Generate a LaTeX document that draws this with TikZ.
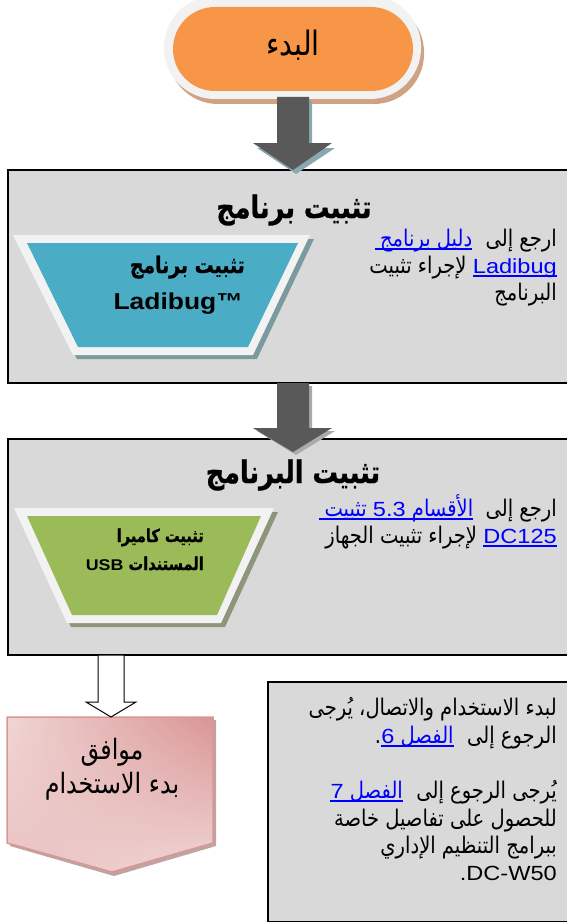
\documentclass[tikz,border=0pt]{standalone}
\usepackage{fontspec}
\usetikzlibrary{shadings}
\setmainfont{Liberation Sans}
\newfontfamily\ar[Script=Arabic, Scale=1.12, FakeStretch=0.85]{DejaVu Sans}
\newfontfamily\arb[Script=Arabic, Scale=1.15, FakeStretch=0.82, FakeBold=0.8]{DejaVu Sans Bold}
\newfontfamily\la[FakeStretch=1.15]{Liberation Sans}
\TeXXeTstate=1
\definecolor{boxgrey}{HTML}{D9D9D9}
\definecolor{adark}{HTML}{595959}
\definecolor{ash1}{HTML}{8AA8B0}
\definecolor{ash2}{HTML}{AAAAAA}
\definecolor{orange1}{HTML}{F79646}
\definecolor{stadsh}{HTML}{CFA283}
\definecolor{rim}{HTML}{F2F2F2}
\definecolor{blue1}{HTML}{4BACC6}
\definecolor{tzsh1}{HTML}{7B9AA0}
\definecolor{green1}{HTML}{9BBB59}
\definecolor{tzsh2}{HTML}{8D957A}
\definecolor{pkdark}{HTML}{D99594}
\definecolor{pkul}{HTML}{F0D5D4}
\definecolor{pkll}{HTML}{E8C3C2}
\definecolor{pklr}{HTML}{F0D7D6}
\definecolor{pkborder}{HTML}{D99694}
\definecolor{pksh}{HTML}{BFA3A3}
\definecolor{lnk}{HTML}{0000FF}
\newcommand\LT[1]{\beginL{\la #1}\endL{}}
\newcommand\ulinedraw[2][0pt]{\draw[lnk, line width=1.3pt] ([xshift=-#1, yshift=-3pt]#2.base west) -- ([yshift=-3pt]#2.base east);}
\tikzset{
  box/.style={draw=black, line width=1.2pt, fill=boxgrey},
  rtxt/.style={font=\ar\fontsize{20.5}{24}\selectfont, inner sep=0pt, anchor=base east},
  rlink/.style={rtxt, text=lnk},
  llink/.style={rtxt, text=lnk, font=\la\fontsize{20.5}{24}\selectfont},
  ttl/.style={font=\arb\fontsize{27}{30}\selectfont, inner sep=0pt, anchor=base},
  tzt/.style={inner sep=0pt, anchor=base east},
}
\begin{document}
\begin{tikzpicture}[x=1pt,y=-1pt]
\useasboundingbox (0,0) rectangle (567,923);
\clip (0,0) rectangle (567,923);
% start terminator
\fill[stadsh, rounded corners=50] (168,2) rectangle (424,104);
\fill[rim, rounded corners=51] (164,-4) rectangle (421,99);
\fill[orange1, rounded corners=42] (173,7) rectangle (413,91);
\node[font=\ar\fontsize{30}{32}\selectfont, inner sep=0pt, anchor=base] (start) at (293,56) {\beginR البدء\endR};
% boxes
\draw[box] (8,170) rectangle (580,383);
\draw[box] (8,439) rectangle (580,655);
\draw[box] (268,682) rectangle (580,921.5);
% trapezoid 1
\fill[tzsh1] (17,239) -- (314,239) -- (257,359) -- (77,359) -- cycle;
\fill[rim] (13,235) -- (310,235) -- (253,355) -- (73,355) -- cycle;
\fill[blue1] (27,243) -- (298,243) -- (248,347) -- (78,347) -- cycle;
% trapezoid 2
\fill[tzsh2] (18,512) -- (278,512) -- (225,627) -- (71,627) -- cycle;
\fill[rim] (14,508) -- (274,508) -- (221,623) -- (67,623) -- cycle;
\fill[green1] (27,516) -- (261,516) -- (217,615) -- (72,615) -- cycle;
% pentagon
\fill[pksh] (10,720) -- (216,720) -- (216,846) -- (114,876) -- (10,846) -- cycle;
\shadedraw[draw=pkborder, line width=1.5pt, upper right=pkdark, upper left=pkul, lower left=pkll, lower right=pklr]
  (7,717) -- (213,717) -- (213,843) -- (112,872) -- (7,843) -- cycle;
% arrows
\fill[ash1] (280,101) -- (312,101) -- (312,148) -- (335,148) -- (296,174) -- (257,148) -- (280,148) -- cycle;
\fill[adark] (277,97) -- (309,97) -- (309,143) -- (332,143) -- (293,170) -- (253,143) -- (277,143) -- cycle;
\fill[ash2] (280,386) -- (312,386) -- (312,431) -- (335,431) -- (296,455) -- (257,431) -- (280,431) -- cycle;
\fill[adark] (277,383) -- (309,383) -- (309,428) -- (332,428) -- (293,452) -- (253,428) -- (277,428) -- cycle;
\draw[black, fill=white, line width=1pt] (98,655) -- (124,655) -- (124,702) -- (136,702) -- (111,717) -- (86,702) -- (98,702) -- cycle;
% titles
\node[ttl] (t1) at (294,218) {\beginR تثبيت برنامج\endR};
\node[ttl] (t2) at (293,483) {\beginR تثبيت البرنامج\endR};
% trapezoid texts
\node[tzt, font=\arb\fontsize{20}{24}\selectfont] (z1a) at (245,273) {\beginR تثبيت برنامج\endR};
\node[tzt, font=\la\bfseries\fontsize{23}{24}\selectfont] (z1b) at (243,309) {Ladibug™};
\node[tzt, font=\arb\fontsize{15.5}{20}\selectfont] (z2a) at (204,542) {\beginR تثبيت كاميرا\endR};
\node[tzt, font=\arb\fontsize{15.5}{20}\selectfont] (z2b) at (204,570) {\beginR المستندات \beginL{\la\bfseries USB}\endL{}\endR};
% pentagon text
\node[font=\ar\fontsize{25}{26}\selectfont, inner sep=0pt, anchor=base] (p1) at (112,759) {\beginR موافق\endR};
\node[font=\ar\fontsize{25}{26}\selectfont, inner sep=0pt, anchor=base] (p2) at (112,793) {\beginR بدء الاستخدام\endR};
% right texts box 1
\node[rtxt] (r1a) at (557,246) {\beginR ارجع إلى\endR};
\node[rlink] (l1) at ([xshift=-13pt]r1a.base west) {\beginR دليل برنامج\endR};
\ulinedraw[5pt]{l1}
\node[llink] (l2) at (557,273) {Ladibug};
\ulinedraw{l2}
\node[rtxt] (r1b) at ([xshift=-6pt]l2.base west) {\beginR لإجراء تثبيت\endR};
\node[rtxt] (r1c) at (557,300) {\beginR البرنامج\endR};
% right texts box 2
\node[rtxt] (r2a) at (557,516) {\beginR ارجع إلى\endR};
\node[rlink] (l3) at ([xshift=-12pt]r2a.base west) {\beginR الأقسام \LT{5.3} تثبيت\endR};
\ulinedraw[5pt]{l3}
\node[llink] (l4) at (557,543) {DC125};
\ulinedraw{l4}
\node[rtxt] (r2b) at ([xshift=-6pt]l4.base west) {\beginR لإجراء تثبيت الجهاز\endR};
% box 3 text
\node[rtxt] (r3a) at (557,715) {\beginR لبدء الاستخدام والاتصال، يُرجى\endR};
\node[rtxt] (r3b) at (557,743) {\beginR الرجوع إلى\endR};
\node[rlink] (l5) at ([xshift=-13pt]r3b.base west) {\beginR الفصل \LT{6}\endR};
\ulinedraw{l5}
\node[rtxt] (r3bp) at (l5.base west) {.};
\node[rtxt] (r3c) at (557,798) {\beginR يُرجى الرجوع إلى\endR};
\node[rlink] (l6) at ([xshift=-13pt]r3c.base west) {\beginR الفصل \LT{7}\endR};
\ulinedraw{l6}
\node[rtxt] (r3d) at (557,826) {\beginR للحصول على تفاصيل خاصة\endR};
\node[rtxt] (r3e) at (557,853) {\beginR ببرامج التنظيم الإداري\endR};
\node[rtxt, font=\la\fontsize{20.5}{24}\selectfont] (r3f) at (557,880) {.DC-W50};
\end{tikzpicture}
\end{document}
